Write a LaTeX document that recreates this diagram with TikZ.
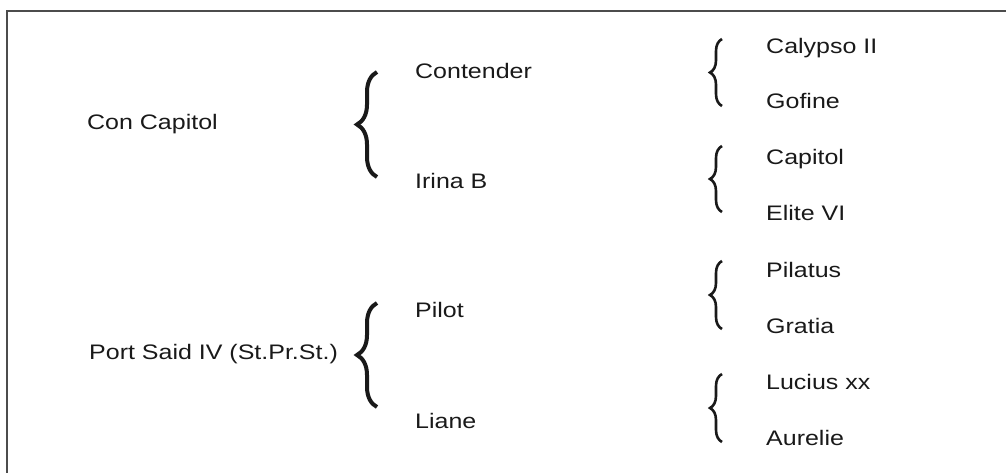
\documentclass[tikz,border=0pt]{standalone}
\usepackage{fontspec}
\setmainfont{Liberation Sans}[FakeStretch=1.19]
\usetikzlibrary{decorations.pathreplacing}

\begin{document}
\begin{tikzpicture}[x=1pt,y=-1pt,
    horse/.style={anchor=base west,inner sep=0pt,text=black!90,
      font=\fontsize{21}{25}\selectfont},
    bigbrace/.style={decorate,decoration={brace,amplitude=20pt},
      line width=4pt,draw=black!90},
    smallbrace/.style={decorate,decoration={brace,amplitude=12pt},
      line width=2.6pt,draw=black!90}]
  \useasboundingbox (0,0) rectangle (1006,472);
  \clip (0,0) rectangle (1006,472);
  \draw[line width=1.8pt,draw=black!70] (7,11) rectangle (1030,500);

  % first generation
  \node[horse] (con) at (87,129) {Con Capitol};
  \node[horse] (port) at (89,359) {Port Said IV (St.Pr.St.)};

  % second generation
  \node[horse] (cont) at (415,78) {Contender};
  \node[horse] (iri) at (415,188) {Irina B};
  \node[horse] (pil) at (415,317) {Pilot};
  \node[horse] (lia) at (415,428) {Liane};

  % third generation
  \node[horse] (cal) at (766,53) {Calypso II};
  \node[horse] (gof) at (766,108) {Gofine};
  \node[horse] (cap) at (766,164) {Capitol};
  \node[horse] (eli) at (766,220) {Elite VI};
  \node[horse] (pila) at (766,277) {Pilatus};
  \node[horse] (gra) at (766,333) {Gratia};
  \node[horse] (luc) at (766,389) {Lucius xx};
  \node[horse] (aur) at (766,445) {Aurelie};

  % brace ends
  \coordinate (con-b) at (377,177);  \coordinate (con-t) at (377,72);
  \coordinate (port-b) at (377,407); \coordinate (port-t) at (377,303);
  \coordinate (cont-b) at (722,106); \coordinate (cont-t) at (722,39);
  \coordinate (iri-b) at (722,212);  \coordinate (iri-t) at (722,146);
  \coordinate (pil-b) at (722,329);  \coordinate (pil-t) at (722,261);
  \coordinate (lia-b) at (722,442);  \coordinate (lia-t) at (722,374);

  \draw[bigbrace] (con-b) -- (con-t);
  \draw[bigbrace] (port-b) -- (port-t);

  \draw[smallbrace] (cont-b) -- (cont-t);
  \draw[smallbrace] (iri-b) -- (iri-t);
  \draw[smallbrace] (pil-b) -- (pil-t);
  \draw[smallbrace] (lia-b) -- (lia-t);
\end{tikzpicture}
\end{document}
